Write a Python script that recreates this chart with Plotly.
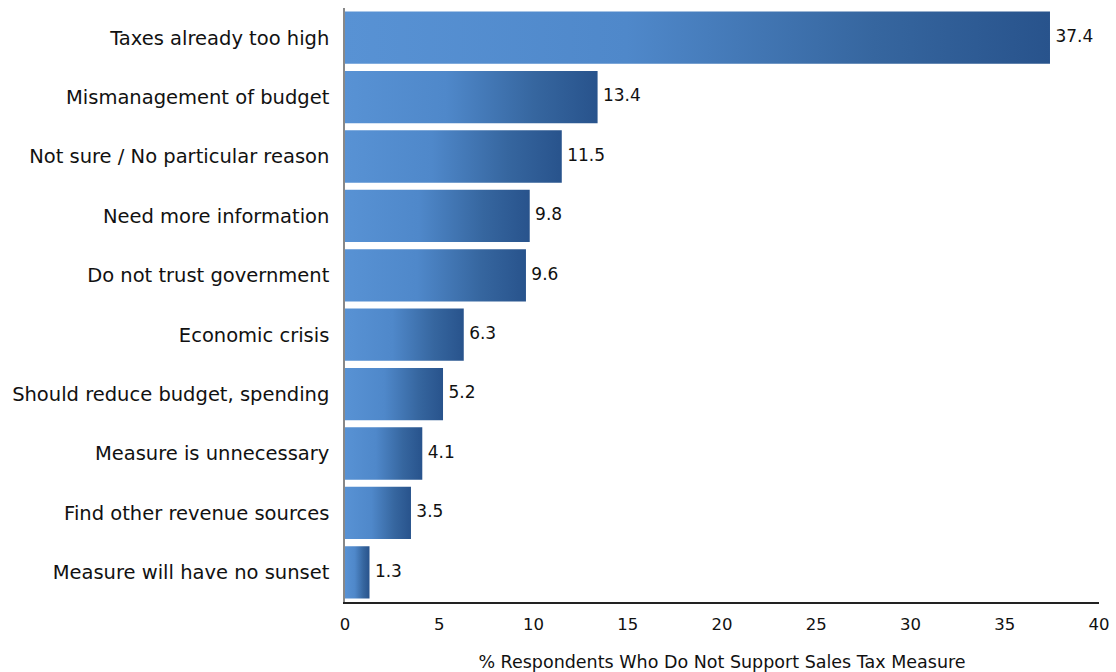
import plotly.graph_objects as go

# reasons given, top to bottom
categories = [
    "Taxes already too high",
    "Mismanagement of budget",
    "Not sure / No particular reason",
    "Need more information",
    "Do not trust government",
    "Economic crisis",
    "Should reduce budget, spending",
    "Measure is unnecessary",
    "Find other revenue sources",
    "Measure will have no sunset",
]
values = [37.4, 13.4, 11.5, 9.8, 9.6, 6.3, 5.2, 4.1, 3.5, 1.3]
value_labels = ["37.4", "13.4", "11.5", "9.8", "9.6", "6.3", "5.2", "4.1", "3.5", "1.3"]

FONT = "DejaVu Sans"
half = 0.44  # half bar thickness, in category units
grad = [[0, "#5892d4"], [0.4, "#4f88ca"], [0.75, "#36669f"], [1, "#28538c"]]

fig = go.Figure()

# each bar is a filled polygon so it can carry its own left-to-right gradient
for i, v in enumerate(values):
    fig.add_trace(go.Scatter(
        x=[0, v, v, 0, 0],
        y=[i - half, i - half, i + half, i + half, i - half],
        mode="lines",
        line=dict(width=0),
        fill="toself",
        fillgradient=dict(type="horizontal", colorscale=grad),
        hoverinfo="skip",
        showlegend=False,
    ))

fig.add_trace(go.Scatter(
    x=values,
    y=list(range(len(values))),
    mode="text",
    text=[" " + t for t in value_labels],
    textposition="middle right",
    textfont=dict(family=FONT, size=17, color="#111111"),
    hoverinfo="skip",
    showlegend=False,
))

fig.update_layout(
    width=1116,
    height=672,
    margin=dict(l=345, r=17, t=8, b=70),
    plot_bgcolor="white",
    paper_bgcolor="white",
    font=dict(family=FONT, color="#111111"),
    xaxis=dict(
        range=[0, 40],
        tickvals=[0, 5, 10, 15, 20, 25, 30, 35, 40],
        showgrid=False,
        zeroline=False,
        showline=True,
        linecolor="#222222",
        linewidth=1.5,
        ticks="outside",
        ticklen=6,
        tickcolor="rgba(0,0,0,0)",
        tickfont=dict(family=FONT, size=16.5, color="#111111"),
        automargin=False,
        title=dict(text="% Respondents Who Do Not Support Sales Tax Measure",
                   font=dict(family=FONT, size=17.5, color="#111111"),
                   standoff=25),
    ),
    yaxis=dict(
        range=[len(values) - 0.5, -0.5],
        tickvals=list(range(len(categories))),
        ticktext=categories,
        showgrid=False,
        zeroline=False,
        showline=True,
        linecolor="#888888",
        linewidth=1.5,
        ticks="outside",
        ticklen=10,
        tickcolor="rgba(0,0,0,0)",
        tickfont=dict(family=FONT, size=19.5, color="#111111"),
        automargin=False,
    ),
)

# drop the default 8px page margin so the figure sits at the window corner
fig.write_html("out.html",
               config={"displayModeBar": False},
               post_script="document.body.style.margin='0';")
